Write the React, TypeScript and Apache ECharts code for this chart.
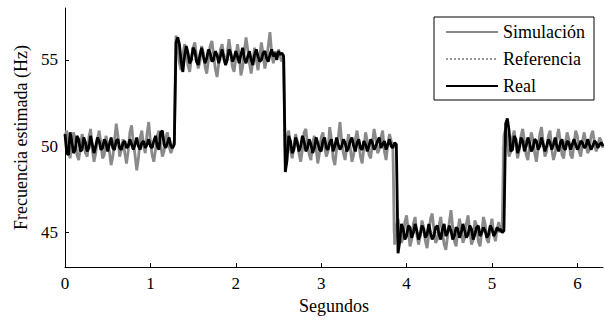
import React, { useEffect, useRef } from 'react';
import * as echarts from 'echarts';

// sampling step of both measured series (seconds)
const dt = 0.02;

const simValues = [
  // ~50 Hz
  50.6, 50.9, 49.7, 49.3, 50.2, 50.8, 50.4, 49.5, 49.2, 49.9,
  50.7, 50.3, 49.6, 49.4, 50.5, 51.0, 49.8, 49.1, 49.6, 50.4,
  50.9, 50.2, 49.3, 49.5, 50.6, 50.1, 49.7, 48.9, 49.4, 50.3,
  51.3, 50.6, 49.4, 49.8, 50.4, 49.6, 49.0, 49.7, 50.8, 51.2,
  50.2, 49.5, 48.6, 49.3, 50.5, 50.9, 50.0, 49.6, 50.7, 51.4,
  50.3, 49.5, 49.1, 49.8, 50.6, 50.9, 50.1, 49.4, 49.7, 50.5,
  50.8, 50.0, 49.6, 49.9, 50.3,
  // ~55 Hz
  56.4, 55.9, 54.8, 54.4, 55.3, 55.9, 55.6, 54.7, 54.3, 55.1,
  55.7, 56.0, 55.2, 54.5, 54.9, 55.8, 55.4, 54.6, 54.2, 55.0,
  55.8, 56.1, 55.3, 54.5, 54.0, 54.8, 55.6, 55.9, 55.2, 54.7,
  55.4, 56.2, 55.5, 54.6, 54.3, 55.1, 55.9, 55.3, 54.1, 54.6,
  55.5, 56.3, 55.6, 54.8, 54.2, 54.9, 55.7, 55.0, 54.4, 55.2,
  56.0, 55.3, 54.5, 55.0, 55.8, 56.6, 55.4, 54.8, 55.5, 55.1,
  55.6, 55.2, 54.9, 55.3,
  // ~50 Hz
  49.0, 50.6, 50.9, 49.8, 49.3, 49.9, 50.7, 50.3, 49.6, 49.1,
  49.8, 50.8, 51.0, 50.1, 49.5, 49.2, 50.2, 50.6, 49.9, 49.0,
  49.6, 50.5, 50.8, 50.0, 49.4, 49.7, 51.1, 50.4, 49.3, 48.9,
  49.8, 50.5, 51.4, 50.3, 49.6, 49.2, 50.0, 50.7, 49.9, 49.1,
  49.5, 50.4, 50.9, 50.2, 49.4, 49.0, 49.9, 50.8, 50.3, 49.5,
  49.3, 50.2, 51.0, 50.4, 49.6, 49.8, 50.5, 50.9, 49.7, 49.2,
  50.1, 50.7, 50.3, 49.8,
  // ~45 Hz
  44.3, 45.2, 45.8, 45.0, 44.4, 44.7, 45.6, 46.0, 45.1, 44.2,
  44.6, 45.5, 45.9, 44.9, 44.3, 44.8, 45.7, 45.3, 44.5, 44.1,
  44.9, 45.8, 46.1, 45.2, 44.4, 44.6, 45.4, 45.9, 45.0, 44.3,
  44.0, 44.8, 45.6, 46.3, 45.3, 44.5, 44.2, 45.1, 45.8, 45.2,
  44.4, 44.7, 45.5, 46.0, 45.1, 44.3, 44.6, 45.7, 45.4, 44.5,
  44.2, 45.0, 45.9, 45.5, 44.6, 44.4, 45.3, 45.8, 44.9, 44.5,
  45.2, 45.6, 45.0, 45.3,
  // ~50 Hz
  50.6, 51.0, 50.2, 49.4, 49.7, 50.5, 50.9, 50.1, 49.3, 49.8,
  50.6, 51.0, 50.3, 49.5, 49.2, 50.0, 50.8, 50.4, 49.6, 49.1,
  49.9, 50.7, 51.1, 50.2, 49.4, 49.7, 50.6, 50.9, 49.8, 49.2,
  49.6, 50.5, 51.0, 50.3, 49.5, 49.3, 50.2, 50.8, 50.4, 49.5,
  49.3, 50.1, 50.9, 50.6, 49.7, 49.4, 50.3, 50.8, 50.2, 49.6,
  49.8, 50.6, 50.9, 50.2, 49.7, 50.0, 50.5, 50.3, 49.9,
];

const realValues = [
  // ~50 Hz
  50.7, 49.6, 49.5, 50.8, 50.3, 49.6, 49.8, 50.6, 50.4, 49.7,
  49.8, 50.5, 50.2, 49.7, 49.9, 50.6, 50.1, 49.6, 50.0, 50.5,
  50.3, 49.8, 49.9, 50.4, 50.2, 49.7, 50.1, 50.5, 49.9, 49.8,
  50.3, 50.4, 49.9, 49.8, 50.2, 50.3, 49.9, 50.0, 50.4, 50.1,
  49.8, 50.1, 50.5, 50.0, 49.8, 50.2, 50.3, 49.9, 50.1, 50.4,
  50.0, 49.9, 50.3, 50.6, 50.0, 49.8, 50.8, 50.9, 50.1, 49.9,
  50.2, 50.5, 50.0, 49.9, 50.1,
  // ~55 Hz
  56.0, 56.3, 55.9, 54.9, 54.3, 55.2, 55.8, 55.4, 54.8, 55.0,
  55.7, 55.5, 54.9, 54.7, 55.3, 55.7, 55.2, 54.8, 55.1, 55.6,
  55.4, 54.9, 55.0, 55.5, 55.3, 54.8, 55.2, 55.6, 55.1, 54.7,
  55.0, 55.6, 55.4, 54.9, 55.1, 55.5, 55.2, 54.8, 55.3, 55.7,
  55.1, 54.8, 55.2, 55.5, 55.0, 54.7, 55.3, 55.6, 55.2, 54.9,
  55.0, 55.4, 55.5, 55.1, 54.9, 55.3, 55.6, 55.2, 55.4, 55.0,
  55.5, 55.3, 55.4, 55.2,
  // ~50 Hz
  48.5, 49.2, 50.6, 50.3, 49.6, 49.8, 50.5, 50.2, 49.7, 50.0,
  50.6, 50.3, 49.7, 49.9, 50.4, 50.1, 49.6, 49.9, 50.5, 50.2,
  49.8, 49.7, 50.3, 50.5, 49.9, 49.8, 50.2, 50.4, 49.7, 50.0,
  50.5, 50.1, 49.8, 50.0, 50.4, 50.2, 49.7, 49.9, 50.3, 50.5,
  50.0, 49.7, 50.2, 50.4, 49.9, 49.8, 50.3, 50.1, 49.7, 50.0,
  50.4, 50.2, 49.8, 50.0, 50.3, 50.5, 49.9, 50.1, 50.3, 49.8,
  50.1, 50.4, 50.0, 49.9, 50.2, 50.1,
  // ~45 Hz
  43.8, 44.5, 45.5, 45.2, 44.6, 44.8, 45.4, 45.3, 44.7, 45.0,
  45.5, 45.1, 44.6, 44.9, 45.4, 45.2, 44.7, 44.9, 45.5, 45.0,
  44.6, 44.8, 45.3, 45.4, 44.9, 44.6, 45.2, 45.5, 44.8, 45.0,
  45.4, 45.1, 44.6, 44.8, 45.3, 45.2, 44.7, 45.0, 45.5, 45.1,
  44.7, 44.9, 45.4, 45.2, 44.6, 44.9, 45.3, 45.4, 44.8, 45.0,
  45.3, 45.1, 44.7, 44.9, 45.4, 45.2, 44.8, 45.0, 45.3, 45.1,
  45.2, 45.0, 45.1,
  // ~50 Hz
  51.3, 51.6, 50.9, 49.7, 49.8, 50.6, 50.4, 49.6, 49.9, 50.5,
  50.3, 49.7, 50.0, 50.5, 50.2, 49.7, 49.9, 50.4, 50.3, 49.8,
  50.0, 50.5, 50.1, 49.7, 50.0, 50.4, 50.2, 49.8, 50.1, 50.5,
  50.0, 49.7, 50.2, 50.4, 49.9, 49.8, 50.3, 50.2, 49.8, 50.1,
  50.4, 50.1, 49.8, 50.0, 50.3, 50.2, 49.9, 50.0, 50.4, 50.1,
  49.8, 50.0, 50.3, 50.2, 49.9, 50.1, 50.2, 50.0,
];

const refTimes = [0, 1.28, 1.28, 2.56, 2.56, 3.84, 3.84, 5.12, 5.12, 6.3];
const refValues = [50, 50, 55, 55, 50, 50, 45, 45, 50, 50];

const yTickValues = [45, 50, 55];
const seriesNames = ['Simulación', 'Referencia', 'Real'];

const FONT = 'Liberation Serif, serif';

export default function App() {
  const ref = useRef<HTMLDivElement>(null);
  useEffect(() => {
    const chart = echarts.init(ref.current!, null, { renderer: 'svg' });
    const t = (i: number) => Math.round(i * dt * 1000) / 1000;
    const sim = simValues.map((v, i) => [t(i), v]);
    const real = realValues.map((v, i) => [t(i), v]);
    const refData = refValues.map((v, i) => [refTimes[i], v]);
    chart.setOption({
      animation: false,
      backgroundColor: '#fff',
      textStyle: { fontFamily: FONT, color: '#000' },
      grid: { left: 65, right: 2, top: 8, bottom: 51, containLabel: false },
      legend: {
        data: seriesNames,
        orient: 'vertical',
        right: 11,
        top: 17,
        itemWidth: 52,
        itemHeight: 18,
        itemGap: 9,
        padding: [6, 9, 5, 11],
        borderColor: '#000',
        borderWidth: 1,
        backgroundColor: '#fff',
        itemStyle: { opacity: 0 },
        textStyle: { fontFamily: FONT, fontSize: 18, color: '#000' },
      },
      xAxis: {
        type: 'value',
        min: 0,
        max: 6.3,
        interval: 1,
        name: 'Segundos',
        nameLocation: 'middle',
        nameGap: 28,
        nameTextStyle: { fontFamily: FONT, fontSize: 18, color: '#000' },
        axisLine: { lineStyle: { color: '#000', width: 1 } },
        axisTick: { inside: true, length: 4, lineStyle: { color: '#000' } },
        axisLabel: { fontFamily: FONT, fontSize: 17, color: '#000', margin: 8, showMaxLabel: false },
        splitLine: { show: false },
      },
      yAxis: {
        type: 'value',
        min: 43,
        max: 58,
        name: 'Frecuencia estimada (Hz)',
        nameLocation: 'middle',
        nameGap: 34,
        nameTextStyle: { fontFamily: FONT, fontSize: 18, color: '#000' },
        axisLine: { show: true, lineStyle: { color: '#000', width: 1 } },
        axisTick: { show: true, inside: true, length: 4, customValues: yTickValues, lineStyle: { color: '#000' } },
        axisLabel: { fontFamily: FONT, fontSize: 17, color: '#000', margin: 7, customValues: yTickValues },
        splitLine: { show: false },
      },
      series: [
        {
          name: seriesNames[0],
          type: 'line',
          data: sim,
          symbol: 'none',
          lineStyle: { color: '#8a8a8a', width: 2.8 },
          itemStyle: { color: '#8a8a8a' },
        },
        {
          name: seriesNames[1],
          type: 'line',
          data: refData,
          symbol: 'none',
          lineStyle: { color: '#9a9a9a', width: 1, type: 'dotted' },
          itemStyle: { color: '#9a9a9a' },
        },
        {
          name: seriesNames[2],
          type: 'line',
          data: real,
          symbol: 'none',
          lineStyle: { color: '#000', width: 2.8 },
          itemStyle: { color: '#000' },
        },
      ],
    });
    return () => chart.dispose();
  }, []);
  return <div ref={ref} style={{ position: 'fixed', left: 0, top: 0, width: 605, height: 320 }} />;
}
